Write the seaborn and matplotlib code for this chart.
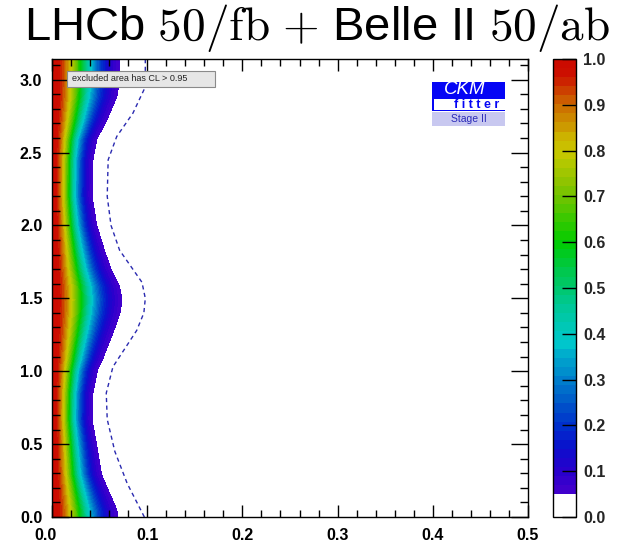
import numpy as np
import matplotlib
matplotlib.use("Agg")
import matplotlib.pyplot as plt
import seaborn as sns
from matplotlib.colors import LinearSegmentedColormap
from matplotlib.patches import Rectangle
from matplotlib.ticker import MultipleLocator, FuncFormatter, FormatStrFormatter

# ---------------- data ----------------
title = r"LHCb $50/\mathrm{fb}$ $+$ Belle II $50/\mathrm{ab}$"
legend_text = "excluded area has CL > 0.95"

# x position of the CL = 0.05 boundary (edge of coloured region) vs y
edge_y = [0.00, 0.05, 0.29, 0.49, 0.67, 0.85, 1.01, 1.08, 1.28, 1.40, 1.49, 1.58,
          1.70, 1.83, 2.00, 2.20, 2.45, 2.59, 2.73, 2.88, 3.00, 3.1416]
edge_x = [0.069, 0.068, 0.052, 0.047, 0.042, 0.043, 0.048, 0.053, 0.065, 0.0715,
          0.0735, 0.071, 0.062, 0.055, 0.047, 0.042, 0.043, 0.047, 0.058, 0.068,
          0.071, 0.071]

# dashed contour
dash_y = [0.00, 0.23, 0.45, 0.67, 0.85, 1.03, 1.28, 1.40, 1.50, 1.61, 1.83, 2.00,
          2.20, 2.45, 2.61, 2.77, 2.95, 3.1416]
dash_x = [0.097, 0.079, 0.066, 0.058, 0.057, 0.064, 0.089, 0.0965, 0.098, 0.0945,
          0.071, 0.062, 0.058, 0.059, 0.068, 0.085, 0.098, 0.098]

# palette anchors (CL value -> colour)
cl_anchor_values = [0.05, 0.10, 0.15, 0.20, 0.25, 0.30, 0.35, 0.38, 0.45,
                    0.50, 0.55, 0.60, 0.70, 0.735, 0.77, 0.80, 0.835, 0.855,
                    0.88, 0.90, 0.92, 0.94, 0.965, 1.00]
cl_anchor_colors = ["#4400cc", "#2800cc", "#0a10cc", "#0030cc", "#0058c8",
                    "#0080cc", "#00a8cc", "#00c8cc", "#00c8a0", "#00c870",
                    "#00c840", "#00cc00", "#70c400", "#90c400", "#b0c800",
                    "#c8c800", "#ccb000", "#cc9a00", "#cc8000", "#cc6a00",
                    "#cc5500", "#cc3300", "#cc1100", "#cc0a00"]

x_ticks = [0.0, 0.1, 0.2, 0.3, 0.4, 0.5]
y_ticks = [0.0, 0.5, 1.0, 1.5, 2.0, 2.5, 3.0]
cbar_ticks = [0.0, 0.1, 0.2, 0.3, 0.4, 0.5, 0.6, 0.7, 0.8, 0.9, 1.0]
x_range = (0.0, 0.5)
y_range = (0.0, np.pi)

# ---------------- style ----------------
sns.set_theme(style="white")
plt.rcParams['font.family'] = ['Liberation Sans', 'DejaVu Sans']
plt.rcParams['mathtext.fontset'] = 'cm'
plt.rcParams['axes.axisbelow'] = False

W, H = 630, 548
fig = plt.figure(figsize=(W / 100, H / 100), dpi=100)
ax = fig.add_axes([52 / W, 1 - 517 / H, 476 / W, 458 / H])
cax = fig.add_axes([553 / W, 1 - 517 / H, 23 / W, 458 / H])

# ---------------- CL field ----------------
xg = np.linspace(x_range[0], x_range[1], 900)
yg = np.linspace(y_range[0], y_range[1], 700)
X, Y = np.meshgrid(xg, yg)
w95 = np.interp(yg, edge_y, edge_x)
sig = w95 / np.sqrt(-2 * np.log(0.05))
CL = np.exp(-0.5 * (X / sig[:, None]) ** 2)

levels = np.concatenate([[0.0], np.linspace(0.05, 1.0, 49)])
levels[-1] = 1.0001
pos = [(v - 0.05) / 0.95 for v in cl_anchor_values]
base = LinearSegmentedColormap.from_list("ckm", list(zip(pos, cl_anchor_colors)))
band_colors = ["white"]
for i in range(1, len(levels) - 1):
    mid = 0.5 * (levels[i] + min(levels[i + 1], 1.0))
    band_colors.append(base((mid - 0.05) / 0.95))

cf = ax.contourf(X, Y, CL, levels=levels, colors=band_colors, antialiased=False)

sns.lineplot(x=dash_x, y=dash_y, sort=False, estimator=None, ax=ax,
             color="#2a2ab0", linewidth=1.0, linestyle=(0, (3.0, 2.5)))

ax.set_axisbelow(False)
ax.set_xlim(*x_range)
ax.set_ylim(*y_range)
ax.set_xticks(x_ticks)
ax.set_yticks(y_ticks)
ax.xaxis.set_minor_locator(MultipleLocator(0.02))
ax.yaxis.set_minor_locator(MultipleLocator(0.1))
ax.xaxis.set_major_formatter(FuncFormatter(lambda v, p: "" if abs(v) < 1e-9 else f"{v:.1f}"))
ax.yaxis.set_major_formatter(FormatStrFormatter('%.1f'))
ax.tick_params(which='both', direction='in', top=True, right=True, bottom=True,
               left=True, color='black', width=1.0, labelsize=11.5,
               labelcolor='black')
ax.tick_params(axis='x', which='major', length=8.5, pad=8)
ax.tick_params(axis='x', which='minor', length=5)
ax.tick_params(axis='y', which='major', length=12, pad=7)
ax.tick_params(axis='y', which='minor', length=6)
for lab in ax.get_xticklabels() + ax.get_yticklabels():
    lab.set_fontweight('bold')
# the x "0.0" label sits slightly left of its tick in the reference
ax.annotate(f"{x_ticks[0]:.1f}", xy=(x_ticks[0], 0), xycoords=('data', 'axes fraction'),
            xytext=(-4.5, -8), textcoords='offset points', ha='center', va='top',
            fontsize=11.5, fontweight='bold', color='black', annotation_clip=False)
for sp in ax.spines.values():
    sp.set_color('black')
    sp.set_linewidth(1.0)
    sp.set_zorder(10)
ax.set_xlabel("")
ax.set_ylabel("")

# ---------------- colorbar ----------------
cb = fig.colorbar(cf, cax=cax, ticks=cbar_ticks, spacing='proportional')
cb.outline.set_edgecolor('black')
cb.outline.set_linewidth(1.0)
cax.set_axisbelow(False)
cax.set_ylim(0, 1.0)
cax.yaxis.set_major_formatter(FormatStrFormatter('%.1f'))
cax.tick_params(direction='in', length=10, width=1.0, color='black',
                labelsize=11.5, pad=5, right=True, left=False,
                labelright=True, labelleft=False)
for lab in cax.get_yticklabels():
    lab.set_fontweight('bold')

# ---------------- legend box ----------------
ax.add_patch(Rectangle((0.0315, 0.939), 0.3105, 0.035, transform=ax.transAxes,
                       facecolor="#e6e6e6", edgecolor="#8a8a8a", lw=0.8, zorder=5))
ax.text(0.042, 0.9565, legend_text, transform=ax.transAxes, fontsize=6.5,
        va='center', ha='left', color='#222222', zorder=6)

# ---------------- CKMfitter logo ----------------
def px2ax(px, py):
    return (px - 52) / 476, (517 - py) / 458

x0, y0 = px2ax(432, 111)
x1, y1 = px2ax(505, 82)
ax.add_patch(Rectangle((x0, y0), x1 - x0, y1 - y0, transform=ax.transAxes,
                       facecolor="#0505f5", edgecolor='none', zorder=5))
wx0, wy0 = px2ax(434, 110)
wx1, wy1 = px2ax(505, 99)
ax.add_patch(Rectangle((wx0, wy0), wx1 - wx0, wy1 - wy0, transform=ax.transAxes,
                       facecolor="white", edgecolor='none', zorder=6))
lx0, ly0 = px2ax(432, 126)
lx1, ly1 = px2ax(505, 112)
ax.add_patch(Rectangle((lx0, ly0), lx1 - lx0, ly1 - ly0, transform=ax.transAxes,
                       facecolor="#c8c8f0", edgecolor='none', zorder=5))
tx, ty = px2ax(464.5, 90)
ax.text(tx, ty, "CKM", transform=ax.transAxes, fontsize=13.5, style='italic',
        color='white', ha='center', va='center', zorder=7)
tx, ty = px2ax(477, 105)
ax.text(tx, ty, "f i t t e r", transform=ax.transAxes, fontsize=9, fontweight='bold',
        color='#0505f5', ha='center', va='center', zorder=7)
tx, ty = px2ax(468.5, 119)
ax.text(tx, ty, "Stage II", transform=ax.transAxes, fontsize=7.5,
        color='#2a2ab8', ha='center', va='center', zorder=7)

# ---------------- title ----------------
fig.text(0.503, 0.949, title, ha='center', va='center', fontsize=34, color='black')

fig.savefig("out.png", dpi=100)
